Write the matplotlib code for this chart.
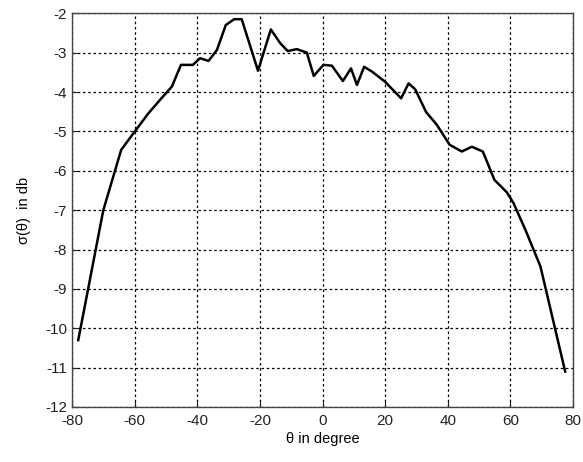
import matplotlib
matplotlib.use("Agg")
import matplotlib.pyplot as plt

theta = [-78, -70, -64.3, -60.4, -55.6, -51.9, -48.1, -45.2, -41.4, -39.1, -36.4,
         -33.7, -30.9, -28.2, -25.8, -20.6, -16.5, -13.5, -11.1, -8.2, -5.0, -2.8,
         0.3, 3.0, 6.5, 9.1, 11.0, 13.3, 15.8, 20.0, 25.1, 27.5, 29.6, 33.1, 36.5,
         40.6, 44.5, 47.7, 51.2, 54.9, 58.9, 61.0, 64.8, 69.6, 77.5]
sigma_db = [-10.3, -7.0, -5.47, -5.05, -4.54, -4.2, -3.86, -3.31, -3.31, -3.14, -3.21,
            -2.93, -2.30, -2.15, -2.15, -3.46, -2.41, -2.76, -2.96, -2.91, -3.0, -3.59,
            -3.31, -3.33, -3.72, -3.40, -3.82, -3.36, -3.48, -3.74, -4.16, -3.78, -3.93,
            -4.51, -4.83, -5.34, -5.51, -5.39, -5.51, -6.23, -6.55, -6.82, -7.5, -8.43,
            -11.1]
xticks = [-80, -60, -40, -20, 0, 20, 40, 60, 80]
yticks = [-12, -11, -10, -9, -8, -7, -6, -5, -4, -3, -2]

plt.rcParams['font.family'] = ['Liberation Sans', 'DejaVu Sans']
plt.rcParams['axes.unicode_minus'] = False
fig = plt.figure(figsize=(5.83, 4.62), dpi=100)
ax = fig.add_axes([72/583, 1-407/462, (573-72)/583, (407-13.3)/462])
ax.plot(theta, sigma_db, color='black', linewidth=1.8)
ax.set_xlim(-80, 80)
ax.set_ylim(-12, -2)
ax.set_xticks(xticks)
ax.set_yticks(yticks)
ax.grid(True, color='black', linestyle=(0, (2, 2.2)), linewidth=0.9)
ax.tick_params(direction='in', length=4, labelsize=11, colors='#222222')
ax.tick_params(axis='x', pad=5)
for s in ax.spines.values():
    s.set_color('#444444')
    s.set_linewidth(1.0)
ax.set_xlabel('θ in degree', fontsize=10.5, labelpad=3)
ax.set_ylabel('σ(θ)  in db', fontsize=10.5, labelpad=10)
fig.savefig('out.png', dpi=100)
